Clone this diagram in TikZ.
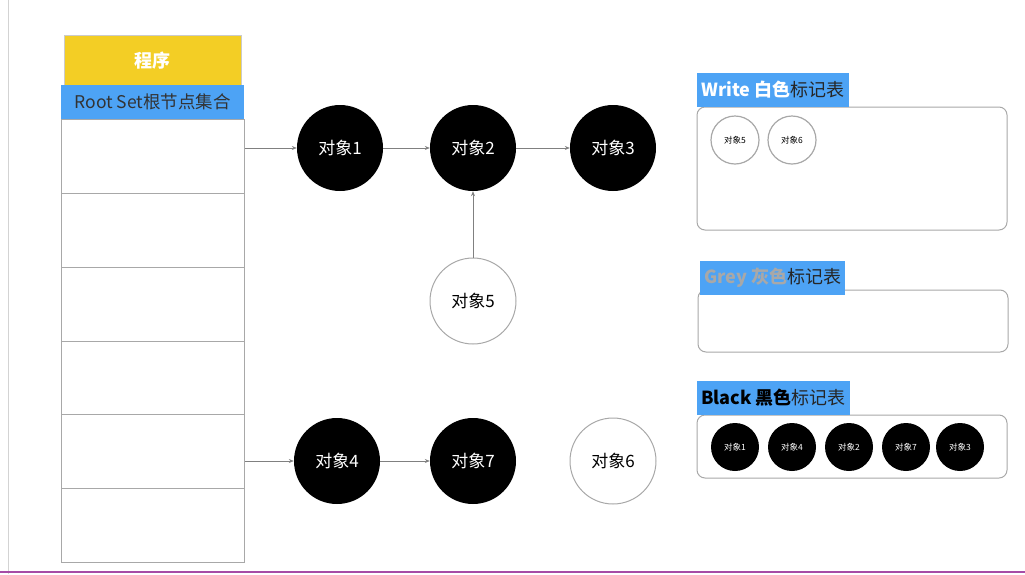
\documentclass[tikz,border=0pt]{standalone}
\usepackage{fontspec}
\setmainfont{Noto Sans CJK SC}
\usetikzlibrary{arrows.meta}
\definecolor{lblue}{HTML}{4DA3F5}
\definecolor{gold}{HTML}{F3CE25}
\definecolor{lgray}{HTML}{A8A8A8}
\begin{document}
\begin{tikzpicture}[x=1pt,y=-1pt,
  bobj/.style={circle,fill=black,text=white,minimum size=86pt,inner sep=0pt,font=\fontsize{17}{17}\selectfont},
  wobj/.style={circle,draw=lgray,line width=1pt,fill=white,text=black,minimum size=86pt,inner sep=0pt,font=\fontsize{17}{17}\selectfont},
  sb/.style={circle,fill=black,text=white,minimum size=48pt,inner sep=0pt,font=\fontsize{8.5}{8.5}\selectfont},
  sw/.style={circle,draw=lgray,line width=1.2pt,fill=white,minimum size=48pt,inner sep=0pt,font=\fontsize{8.5}{8.5}\selectfont},
  arr/.style={-{Stealth[length=5pt,width=4pt]},draw=gray,line width=0.6pt},
  panel/.style={draw=lgray,line width=1pt,rounded corners=8pt},
  lab/.style={fill=lblue,anchor=south west,inner sep=4pt,minimum height=34pt,font=\bfseries\fontsize{18}{18}\selectfont}]
\useasboundingbox (0,0) rectangle (1025,574);
\draw[lgray!50,line width=1pt] (8,0) -- (8,574);
\draw[violet!70,line width=2pt] (0,572) -- (1025,572);
% left column
\node[fill=gold,draw=lgray!60,minimum width=177pt,minimum height=50pt,anchor=north west,text=white,font=\bfseries\fontsize{18}{18}\selectfont] (prog) at (64,35) {程序};
\node[fill=lblue,minimum width=183pt,minimum height=34pt,anchor=north west,inner sep=0pt,text=black!80,font=\fontsize{17.5}{17.5}\selectfont] (rs) at (61,85) {Root Set根节点集合};
\foreach \a/\b [count=\i] in {119/193,193/267,267/341,341/414,414/488,488/562}
  \node[draw=lgray,minimum width=183pt,minimum height={\b-\a},anchor=north west,inner sep=0pt] (r\i) at (61,\a) {};
\coordinate (c1) at (245,148);
\coordinate (c4) at (245,461);
% objects
\node[bobj] (o1) at (340,148) {对象1};
\node[bobj] (o2) at (473,148) {对象2};
\node[bobj] (o3) at (613,148) {对象3};
\node[wobj] (o5) at (473,301) {对象5};
\node[bobj] (o4) at (337,461) {对象4};
\node[bobj] (o7) at (473,461) {对象7};
\node[wobj] (o6) at (613,461) {对象6};
\draw[arr] (c1) -- (o1);
\draw[arr] (o1) -- (o2);
\draw[arr] (o2) -- (o3);
\draw[arr] (o5) -- (o2);
\draw[arr] (c4) -- (o4);
\draw[arr] (o4) -- (o7);
% panels
\draw[panel] (697,107) rectangle (1007,230);
\node[lab] (lw) at (697,107) {\textcolor{white}{Write 白色}\textcolor{black!85}{\mdseries 标记表}};
\node[sw] (w5) at (735,140) {对象5};
\node[sw] (w6) at (792,140) {对象6};
\draw[panel] (698,290) rectangle (1008,352);
\node[lab] (lg) at (700,295) {\textcolor{lgray}{Grey 灰色}\textcolor{black!85}{\mdseries 标记表}};
\draw[panel] (697,415) rectangle (1007,478);
\node[lab] (lb) at (697,415) {\textcolor{black}{Black 黑色}\textcolor{black!85}{\mdseries 标记表}};
\node[sb] (b1) at (735,447) {对象1};
\node[sb] (b4) at (792,447) {对象4};
\node[sb] (b2) at (849,447) {对象2};
\node[sb] (b7) at (906,447) {对象7};
\node[sb] (b3) at (960,447) {对象3};
\end{tikzpicture}
\end{document}
